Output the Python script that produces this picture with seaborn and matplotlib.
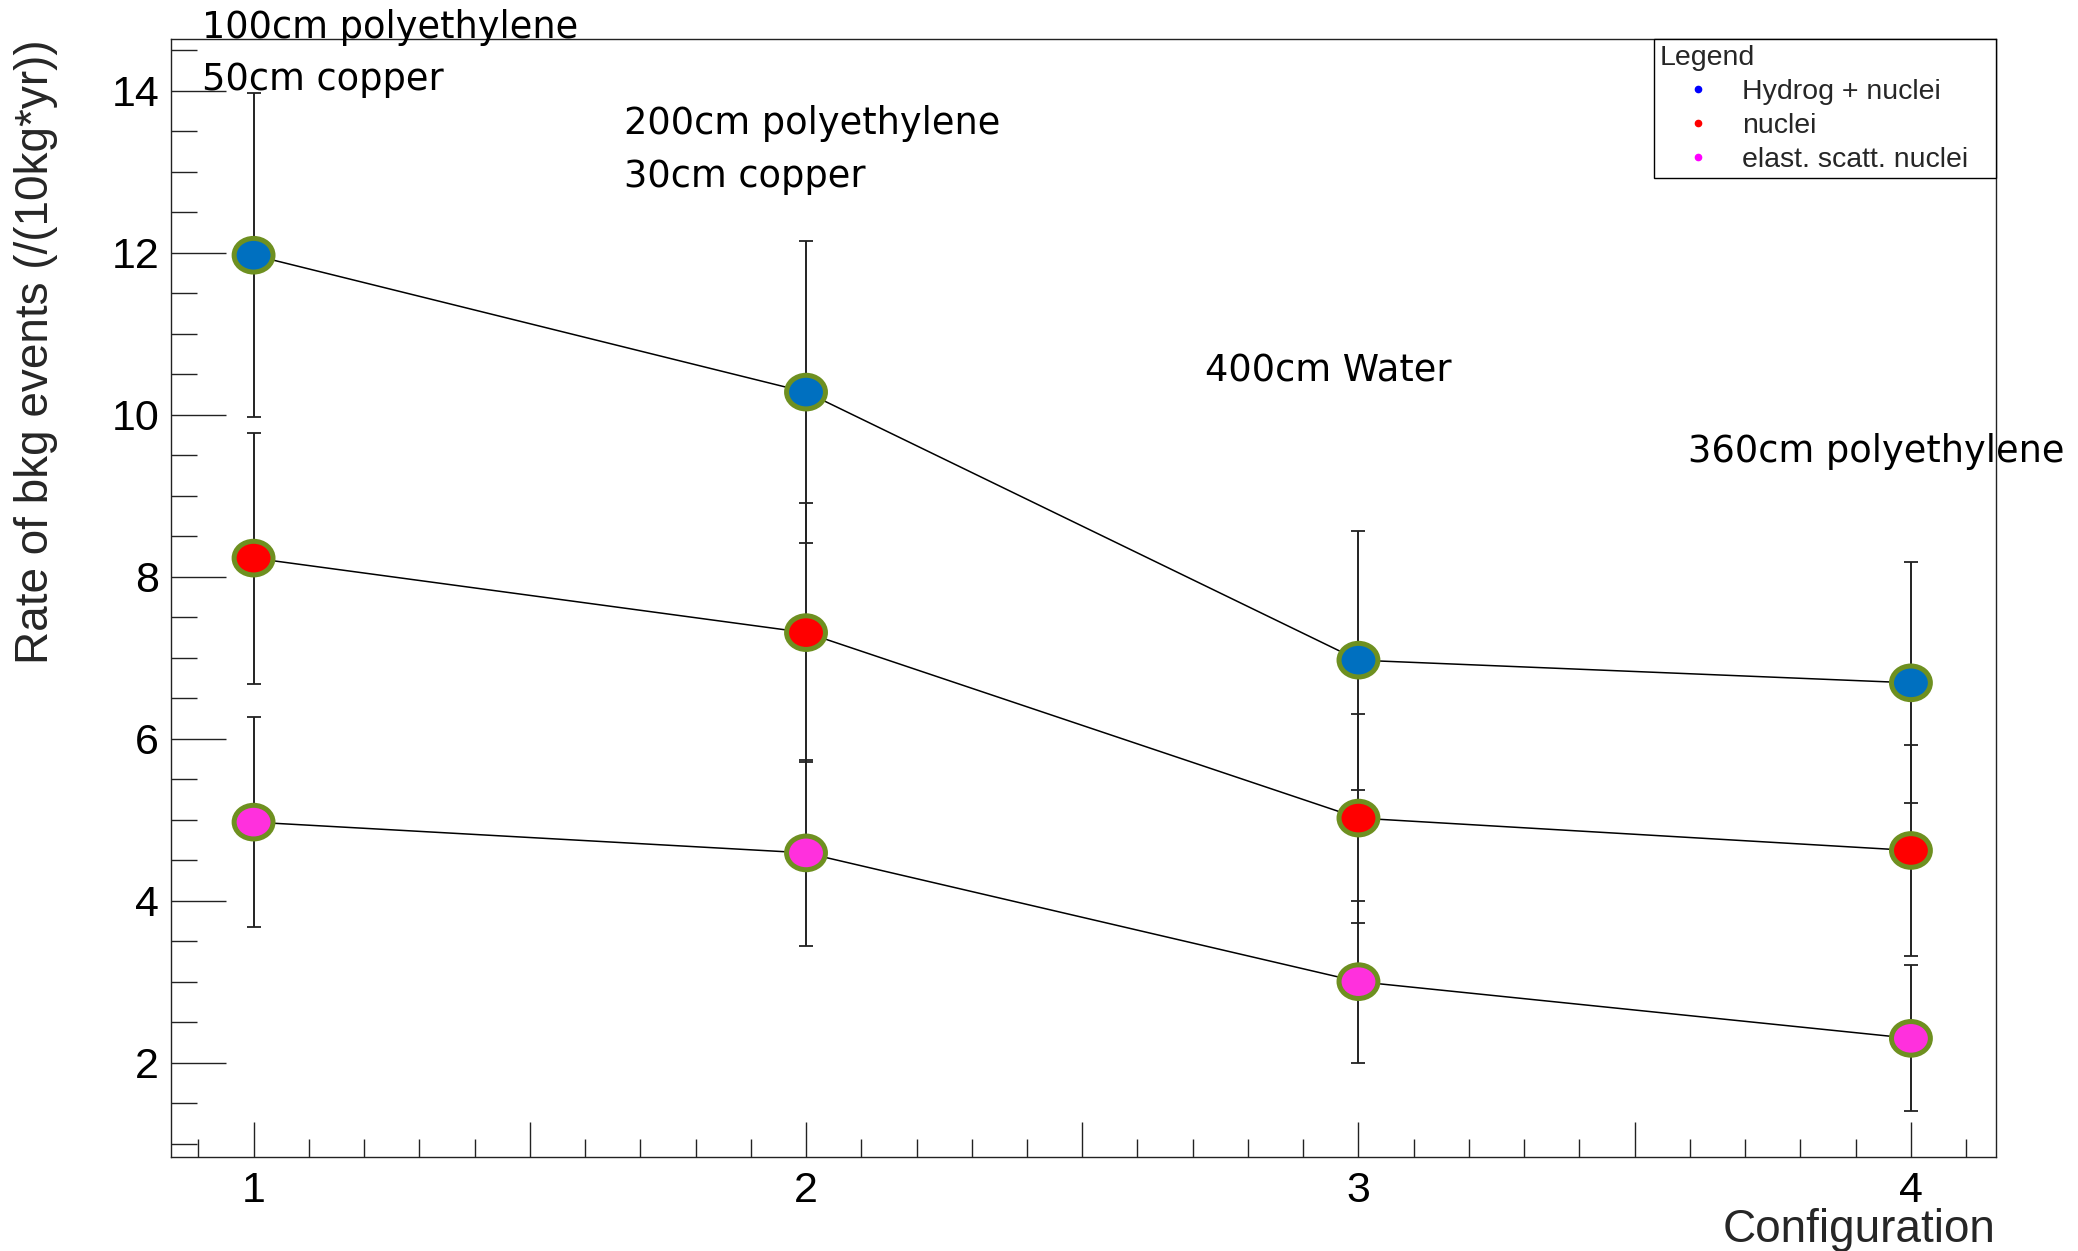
import numpy as np
import pandas as pd
import matplotlib
matplotlib.use("Agg")
import matplotlib.pyplot as plt
import seaborn as sns
from matplotlib.path import Path
from matplotlib.lines import Line2D
from matplotlib.ticker import MultipleLocator, FuncFormatter

# ---------------- data ----------------
configs = [1, 2, 3, 4]
series_names = ["Hydrog + nuclei", "nuclei", "elast. scatt. nuclei"]
hydrog_nuclei = [11.97, 10.28, 6.97, 6.69]
hydrog_nuclei_err = [2.0, 1.86, 1.6, 1.49]
nuclei = [8.23, 7.31, 5.02, 4.62]
nuclei_err = [1.55, 1.6, 1.29, 1.3]
elastic = [4.97, 4.59, 3.00, 2.30]
elastic_err = [1.3, 1.15, 1.0, 0.9]

fill_colors = ["#0070c0", "#ff0000", "#ff30dd"]
legend_colors = ["#0000ff", "#ff0000", "#ff00ff"]
edge_color = "#6e9020"

annotations = [
    ("100cm polyethylene", 202, 38),
    ("50cm copper", 202, 90),
    ("200cm polyethylene", 624, 134),
    ("30cm copper", 624, 187),
    ("400cm Water", 1205, 381),
    ("360cm polyethylene", 1688, 462),
]

df = pd.DataFrame({
    "config": configs * 3,
    "rate": hydrog_nuclei + nuclei + elastic,
    "err": hydrog_nuclei_err + nuclei_err + elastic_err,
    "series": [s for s in series_names for _ in configs],
})

# ---------------- style ----------------
sns.set_style("white")
plt.rcParams["font.family"] = ["Liberation Sans", "DejaVu Sans"]

W, H = 2078, 1251
fig = plt.figure(figsize=(W / 100, H / 100), dpi=100)
fig.patch.set_facecolor("white")
left, right, top, bottom = 170.7, 1996, 39, 1157
ax = fig.add_axes([left / W, 1 - bottom / H, (right - left) / W, (bottom - top) / H])
ax.set_facecolor("white")

# connecting lines
sns.lineplot(data=df, x="config", y="rate", units="series", estimator=None,
             color="black", linewidth=1.1, ax=ax, legend=False, zorder=2)

# error bars
ax.errorbar(df["config"], df["rate"], yerr=df["err"], fmt="none",
            ecolor="#222222", elinewidth=1.4, capsize=5, capthick=1.3, zorder=2.5)

# ellipse markers
circ = Path.unit_circle()
ellipse = Path(circ.vertices * np.array([1.0, 0.865]), circ.codes)
sns.scatterplot(data=df, x="config", y="rate", hue="series",
                palette=dict(zip(series_names, fill_colors)), marker=ellipse,
                s=28.0 ** 2, edgecolor=edge_color, linewidth=3.6,
                ax=ax, legend=False, zorder=3)

ax.set_xlim(0.850, 4.154)
ax.set_ylim(0.835, 14.64)

# ticks
ax.xaxis.set_major_locator(MultipleLocator(0.5))
ax.xaxis.set_minor_locator(MultipleLocator(0.1))
ax.xaxis.set_major_formatter(FuncFormatter(
    lambda v, p: f"{int(round(v))}" if abs(v - round(v)) < 1e-6 else ""))
ax.yaxis.set_major_locator(MultipleLocator(2))
ax.yaxis.set_minor_locator(MultipleLocator(0.5))
ax.tick_params(axis="both", which="both", direction="in", color="#222222",
               width=1.0, bottom=True, left=True, top=False, right=False,
               labelsize=31, labelcolor="black")
ax.tick_params(axis="x", which="major", length=25.2, pad=10)
ax.tick_params(axis="x", which="minor", length=13)
ax.tick_params(axis="y", which="major", length=39.6, pad=8.4)
ax.tick_params(axis="y", which="minor", length=18.7)
for sp in ax.spines.values():
    sp.set_visible(True)
    sp.set_color("#222222")
    sp.set_linewidth(1.0)

ax.set_xlabel("Configuration", fontsize=33, loc="right")
ax.xaxis.set_label_coords(1.0, -0.046)
ax.set_ylabel("Rate of bkg events (/(10kg*yr))", fontsize=33, loc="top")
ax.yaxis.set_label_coords(-0.0617, 1.0)

# legend
handles = [Line2D([0], [0], linestyle="none", marker="o", markersize=4.5,
                  markerfacecolor=c, markeredgecolor=c) for c in legend_colors]
x0 = (1654 - left) / (right - left)
leg = ax.legend(handles, series_names, title="Legend", loc="upper right",
                bbox_to_anchor=(x0, 0.5, 1.0 - x0, 0.5), mode="expand",
                borderaxespad=0, fontsize=20.5, title_fontsize=20.5,
                frameon=True, fancybox=False, shadow=False, framealpha=1,
                edgecolor="black", borderpad=0.2, handlelength=2.7,
                handletextpad=0.2, labelspacing=0.28, alignment="left")
leg.get_frame().set_linewidth(1.0)

# free text annotations (figure pixel positions)
for txt, px, py in annotations:
    fig.text(px / W, 1 - py / H, txt, fontsize=26.5, family="DejaVu Sans",
             ha="left", va="baseline", color="black")

fig.savefig("out.png", dpi=100)
